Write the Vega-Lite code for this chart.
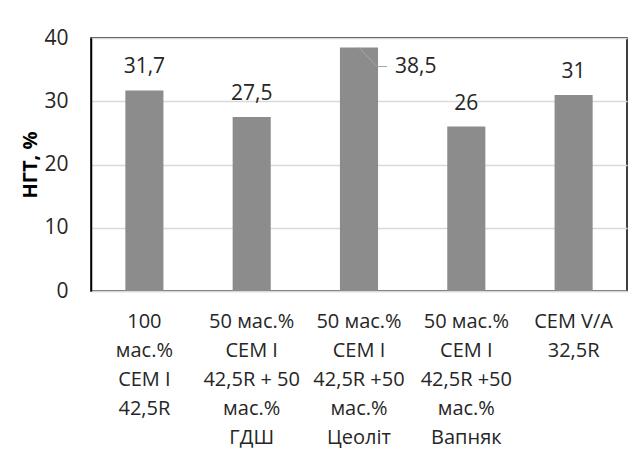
{
  "$schema": "https://vega.github.io/schema/vega-lite/v6.json",
  "autosize": "none",
  "width": 536,
  "height": 253,
  "padding": {"left": 91, "top": 38, "right": 3, "bottom": 172},
  "background": "white",
  "config": {
    "font": "Open Sans",
    "view": {"stroke": "black", "strokeWidth": 1.5}
  },
  "data": {
    "values": [
      {"label": "100|мас.%|CEM I|42,5R", "v": 31.7, "t": "31,7"},
      {"label": "50 мас.%|CEM I|42,5R + 50|мас.%|ГДШ", "v": 27.5, "t": "27,5"},
      {"label": "50 мас.%|CEM I|42,5R +50|мас.%|Цеоліт", "v": 38.5, "t": "38,5"},
      {"label": "50 мас.%|CEM I|42,5R +50|мас.%|Вапняк", "v": 26, "t": "26"},
      {"label": "CEM V/A|32,5R", "v": 31, "t": "31"}
    ]
  },
  "encoding": {
    "x": {
      "field": "label", "type": "nominal", "sort": null,
      "scale": {"paddingInner": 0.645, "paddingOuter": 0.32},
      "axis": {
        "title": null, "labelAngle": 0, "ticks": false,
        "labelExpr": "split(datum.value, '|')",
        "labelFont": "Open Sans", "labelFontSize": 20, "labelColor": "#262626",
        "labelLineHeight": 29, "labelPadding": 20, "labelBaseline": "top",
        "domainColor": "#d9d9d9", "domainWidth": 1.5
      }
    },
    "y": {
      "field": "v", "type": "quantitative",
      "scale": {"domain": [0, 40]},
      "axis": {
        "values": [0, 10, 20, 30, 40], "title": "НГТ, %",
        "titleFont": "Open Sans", "titleFontSize": 20, "titleFontWeight": "bold",
        "titleColor": "#000000", "titlePadding": 3,
        "labelFont": "Open Sans", "labelFontSize": 21, "labelColor": "#262626",
        "labelPadding": 23, "ticks": false, "domainColor": "black", "domainWidth": 1.5,
        "gridColor": "#d9d9d9", "gridWidth": 1.5
      }
    }
  },
  "layer": [
    {"mark": {"type": "bar", "color": "#8c8c8c"}},
    {
      "transform": [{"filter": "datum.v < 35"}],
      "mark": {"type": "text", "font": "Open Sans", "fontSize": 21, "color": "#262626", "baseline": "middle", "dy": -23},
      "encoding": {"text": {"field": "t"}}
    },
    {
      "transform": [{"filter": "datum.v >= 35"}],
      "mark": {"type": "text", "font": "Open Sans", "fontSize": 21, "color": "#262626", "baseline": "middle", "align": "left", "dx": 36, "dy": 20},
      "encoding": {"text": {"field": "t"}}
    },
    {
      "transform": [{"filter": "datum.v >= 35"}],
      "mark": {"type": "rule", "color": "#a6a6a6", "strokeWidth": 1, "x2Offset": 18, "y2Offset": 19},
      "encoding": {
        "x2": {"field": "label"},
        "y2": {"field": "v"}
      }
    },
    {
      "transform": [{"filter": "datum.v >= 35"}],
      "mark": {"type": "rule", "color": "#a6a6a6", "strokeWidth": 1, "xOffset": 18, "x2Offset": 28, "yOffset": 19, "y2Offset": 19},
      "encoding": {
        "x2": {"field": "label"},
        "y2": {"field": "v"}
      }
    }
  ]
}
